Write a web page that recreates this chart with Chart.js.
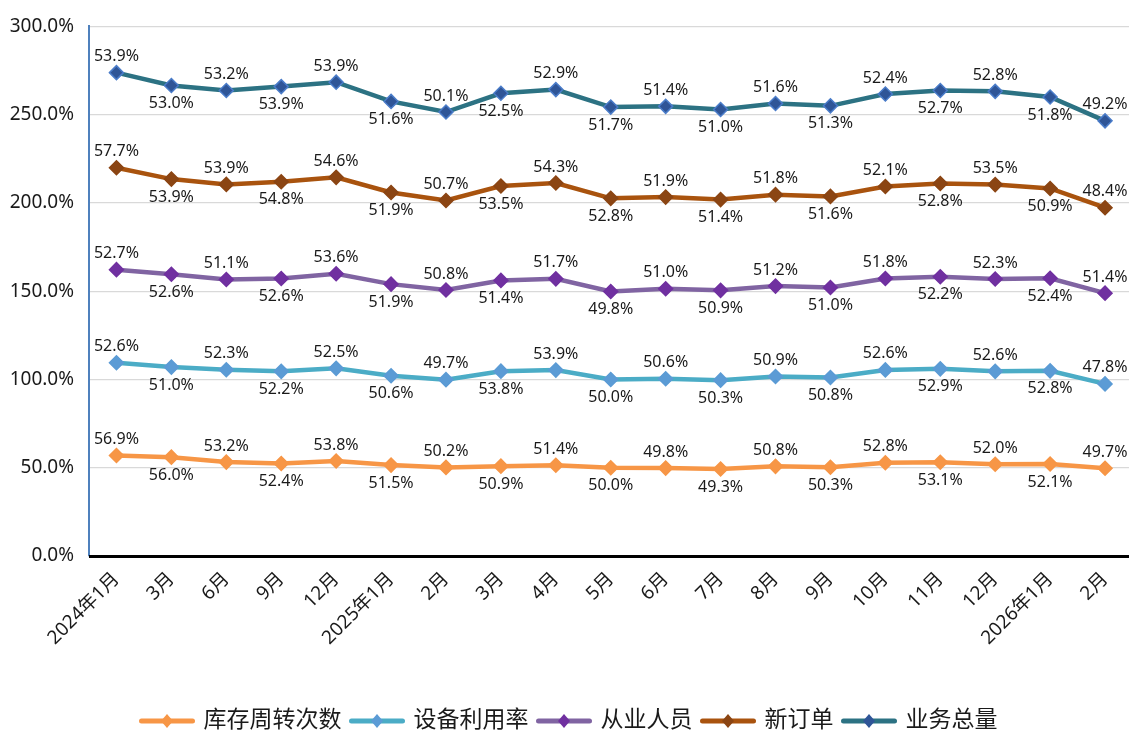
<!DOCTYPE html>
<html>
<head>
<meta charset="utf-8">
<script src="https://cdn.jsdelivr.net/npm/chart.js@4/dist/chart.umd.min.js"></script>
<style>
  html, body { margin: 0; padding: 0; background: #fff; overflow: hidden; width: 1129px; height: 731px; }
  #wrap { width: 1141px; height: 731px; }
</style>
</head>
<body>
<div id="wrap"><canvas id="grafico"></canvas></div>
<script>
// ===== DADOS =====
const categorias = ['2024年1月', '3月', '6月', '9月', '12月', '2025年1月', '2月', '3月', '4月', '5月',
    '6月', '7月', '8月', '9月', '10月', '11月', '12月', '2026年1月', '2月'];

const estoque = [56.9, 56.0, 53.2, 52.4, 53.8, 51.5, 50.2, 50.9, 51.4, 50.0, 49.8, 49.3, 50.8, 50.3, 52.8, 53.1, 52.0, 52.1, 49.7];
const equipamento = [52.6, 51.0, 52.3, 52.2, 52.5, 50.6, 49.7, 53.8, 53.9, 50.0, 50.6, 50.3, 50.9, 50.8, 52.6, 52.9, 52.6, 52.8, 47.8];
const pessoal = [52.7, 52.6, 51.1, 52.6, 53.6, 51.9, 50.8, 51.4, 51.7, 49.8, 51.0, 50.9, 51.2, 51.0, 51.8, 52.2, 52.3, 52.4, 51.4];
const pedidos = [57.7, 53.9, 53.9, 54.8, 54.6, 51.9, 50.7, 53.5, 54.3, 52.8, 51.9, 51.4, 51.8, 51.6, 52.1, 52.8, 53.5, 50.9, 48.4];
const negocios = [53.9, 53.0, 53.2, 53.9, 53.9, 51.6, 50.1, 52.5, 52.9, 51.7, 51.4, 51.0, 51.6, 51.3, 52.4, 52.7, 52.8, 51.8, 49.2];

const yTicks = [0, 50, 100, 150, 200, 250, 300];

const fonte = '"Noto Sans", "Noto Sans CJK SC", sans-serif';

function serie(nome, dados, cor, corPonto, bordaPonto) {
    return {
        label: nome,
        data: dados,
        borderColor: cor,
        backgroundColor: cor,
        borderWidth: 4.5,
        fill: false,
        tension: 0,
        pointStyle: 'rectRot',
        pointRadius: 7,
        pointHoverRadius: 7,
        pointBackgroundColor: corPonto,
        pointBorderColor: bordaPonto || corPonto,
        pointBorderWidth: 1.5
    };
}

// ===== EIXO X (linha preta) =====
const eixoPlugin = {
    id: 'eixoX',
    afterDraw(chart) {
        const area = chart.chartArea;
        const g = chart.ctx;
        g.save();
        g.setLineDash([]);
        g.globalAlpha = 1;
        g.strokeStyle = '#000000';
        g.lineWidth = 3;
        g.beginPath();
        g.moveTo(area.left, Math.round(area.bottom) + 0.5);
        g.lineTo(area.right + 10, Math.round(area.bottom) + 0.5);
        g.stroke();
        g.restore();
    }
};

// ===== RÓTULOS DE DADOS =====
const rotulosPlugin = {
    id: 'rotulos',
    afterDatasetsDraw(chart) {
        const g = chart.ctx;
        g.save();
        g.font = '16px ' + fonte;
        g.fillStyle = '#1a1a1a';
        g.textAlign = 'center';
        g.textBaseline = 'middle';
        chart.data.datasets.forEach((ds, i) => {
            const meta = chart.getDatasetMeta(i);
            meta.data.forEach((pt, j) => {
                const dy = (j % 2 === 0) ? -16 : 18;
                g.fillText(ds.data[j].toFixed(1) + '%', pt.x, pt.y + dy);
            });
        });
        g.restore();
    }
};

// ===== LEGENDA (linha + losango) =====
const legendaPlugin = {
    id: 'legendaLinha',
    afterDraw(chart) {
        const g = chart.ctx;
        const dsList = chart.data.datasets;
        g.save();
        g.font = '23px ' + fonte;
        const iconW = 57, gapIcon = 8, gapItem = 7;
        let total = 0;
        const larguras = dsList.map(ds => g.measureText(ds.label).width);
        larguras.forEach(w => { total += iconW + gapIcon + w + gapItem; });
        total -= gapItem;
        let x = 568 - total / 2;
        const y = 721;
        dsList.forEach((ds, i) => {
            g.strokeStyle = ds.borderColor;
            g.lineWidth = 5;
            g.lineCap = 'round';
            g.beginPath(); g.moveTo(x + 3, y); g.lineTo(x + iconW - 3, y); g.stroke();
            const cx = x + iconW / 2;
            g.fillStyle = ds.pointBackgroundColor;
            g.beginPath();
            g.moveTo(cx, y - 7); g.lineTo(cx + 6, y); g.lineTo(cx, y + 7); g.lineTo(cx - 6, y);
            g.closePath(); g.fill();
            g.fillStyle = '#1a1a1a';
            g.textAlign = 'left';
            g.textBaseline = 'middle';
            g.fillText(ds.label, x + iconW + gapIcon, y - 1);
            x += iconW + gapIcon + larguras[i] + gapItem;
        });
        g.restore();
    }
};

const grafico = new Chart(document.getElementById('grafico'), {
    type: 'line',
    data: {
        labels: categorias,
        datasets: [
            serie('库存周转次数', estoque, '#F79646', '#F79646'),
            serie('设备利用率', equipamento, '#4BACC6', '#5B9BD5'),
            serie('从业人员', pessoal, '#8064A2', '#7030A0'),
            serie('新订单', pedidos, '#A9530E', '#8B4513'),
            serie('业务总量', negocios, '#2C7283', '#2F5597', '#4A7CC9')
        ]
    },
    options: {
        responsive: true,
        maintainAspectRatio: false,
        animation: false,
        layout: { padding: { top: 22, right: 0, bottom: 40, left: 0 } },
        plugins: {
            tooltip: { enabled: false },
            legend: { display: false }
        },
        scales: {
            x: {
                offset: true,
                grid: { display: false, drawTicks: false },
                border: { display: false },
                ticks: {
                    color: '#1a1a1a',
                    font: { size: 19, family: fonte },
                    maxRotation: 45,
                    minRotation: 45,
                    autoSkip: false,
                    padding: 12
                },
                afterFit(scale) {
                    scale.height = 135;
                    scale.paddingLeft = 0;
                    scale.paddingRight = 0;
                }
            },
            y: {
                stacked: true,
                min: 0,
                max: 300,
                afterBuildTicks(scale) { scale.ticks = yTicks.map(v => ({ value: v })); },
                grid: {
                    color: c => c.tick && c.tick.value === 0 ? 'rgba(0,0,0,0)' : '#d9d9d9',
                    lineWidth: 1.2,
                    drawTicks: false
                },
                border: { color: '#4F81BD', width: 2 },
                ticks: {
                    color: '#1a1a1a',
                    font: { size: 19, family: fonte },
                    padding: 15,
                    callback: v => v.toFixed(1) + '%'
                },
                afterFit(scale) { scale.width = 89; }
            }
        }
    },
    plugins: [eixoPlugin, rotulosPlugin, legendaPlugin]
});
</script>
</body>
</html>
